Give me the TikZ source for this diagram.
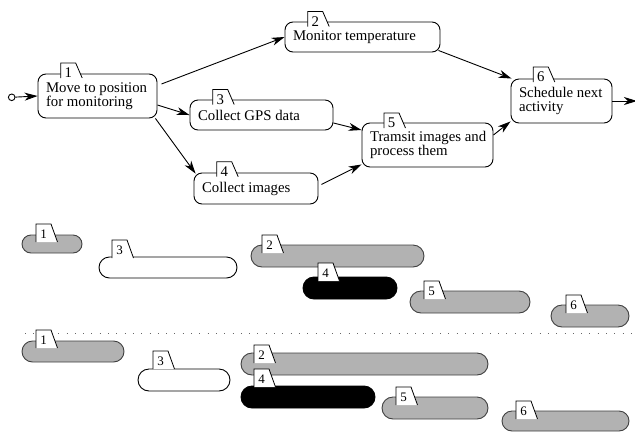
\documentclass[tikz,border=0pt]{standalone}
\usepackage{fontspec}
\setmainfont{Liberation Serif}
\usetikzlibrary{arrows.meta,calc}
\tikzset{
  task/.style={draw=black, line width=0.9pt, rounded corners=8pt, fill=white,
    inner xsep=8pt, inner ysep=0pt, align=flush left, anchor=center,
    font=\fontsize{14.8}{14.5}\selectfont},
  arr/.style={-{Stealth[length=13pt,width=8pt,inset=4pt]}, line width=0.9pt},
  tabline/.style={draw=black, line width=0.8pt, fill=white},
  tabnum/.style={inner sep=0pt, anchor=center, font=\fontsize{14.8}{15}\selectfont},
  gtabnum/.style={inner sep=0pt, anchor=center, font=\fontsize{13}{13}\selectfont},
  graybar/.style={fill=black!30, draw=black!75, line width=0.9pt},
  whitebar/.style={fill=white, draw=black, line width=0.9pt},
  blackbar/.style={fill=black, draw=black, line width=0.9pt},
}
% graph tab: left x, top y, label, name
\newcommand\gtab[4]{%
  \filldraw[tabline] (#1,#2+15) -- (#1,#2) -- (#1+15,#2) -- (#1+21.5,#2+15);
  \node[tabnum] (#4) at (#1+7.5,#2+10) {#3};}
% gantt bar: style, x1, x2, ytop, h, tab left, tab top, label, name
\newcommand\gbar[9]{%
  \draw[#1, rounded corners=#5*0.5pt] (#2,#4) rectangle (#3,#4+#5);
  \filldraw[tabline] (#6,#7+18) -- (#6,#7) -- (#6+15,#7) -- (#6+21.5,#7+18);
  \node[gtabnum] (#9) at (#6+7.5,#7+10) {#8};}
\begin{document}
\begin{tikzpicture}[x=1pt,y=-1pt]
\useasboundingbox (0,0) rectangle (635,432);

% ---- activity graph ----
\node[task, minimum width=119pt, minimum height=44pt, text width=103pt] (n1) at (97.5,96) {\mbox{Move to position}\\\mbox{for monitoring}};
\node[task, minimum width=155pt, minimum height=30pt, text width=139pt] (n2) at (362.5,37) {\mbox{Monitor temperature}};
\node[task, minimum width=143pt, minimum height=30pt, text width=127pt] (n3) at (261.5,115) {\mbox{Collect GPS data}};
\node[task, minimum width=124pt, minimum height=31pt, text width=108pt] (n4) at (256,188.5) {\mbox{Collect images}};
\node[task, minimum width=131pt, minimum height=44pt, text width=115pt] (n5) at (427.5,145) {\mbox{Tramsit images and}\\\mbox{process them}};
\node[task, minimum width=101pt, minimum height=44pt, text width=85pt] (n6) at (561.5,101) {\mbox{Schedule next}\\\mbox{activity}};

\gtab{60.7}{63}{1}{t1}
\gtab{307.7}{11.5}{2}{t2}
\gtab{212.7}{89.5}{3}{t3}
\gtab{216.7}{161.7}{4}{t4}
\gtab{384}{113}{5}{t5}
\gtab{533.3}{67}{6}{t6}

\node[circle, draw, line width=0.9pt, minimum size=6.6pt, inner sep=0pt] (start) at (11.7,97.3) {};
\coordinate (outend) at (637,101);

\draw[arr] (start) -- (n1.west);
\draw[arr] ([xshift=4pt,yshift=12pt]n1.east) -- (n2.west);
\draw[arr] ([yshift=-9pt]n1.east) -- (n3.west);
\draw[arr] ([xshift=-2pt]n1.south east) -- ([xshift=2pt,yshift=-1pt]n4.north west);
\draw[arr] ([xshift=-2pt,yshift=2pt]n2.south east) -- ([xshift=1pt]n6.north west);
\draw[arr] ([yshift=-8pt]n3.east) -- ([yshift=15pt]n5.west);
\draw[arr] ([xshift=3pt,yshift=4pt]n4.east) -- ([yshift=3pt]n5.south west);
\draw[arr] ([yshift=10pt]n5.east) -- ([yshift=2pt]n6.south west);
\draw[arr] (n6.east) -- (outend);

% ---- upper schedule ----
\gbar{graybar}{22}{82}{235}{18}{36}{224}{1}{ua1}
\gbar{graybar}{251}{424}{245}{22}{262}{235}{2}{ua2}
\gbar{whitebar}{99}{237}{257}{21}{112}{240}{3}{ua3}
\gbar{blackbar}{303}{397}{277}{22}{318}{263}{4}{ua4}
\gbar{graybar}{410}{530}{291}{22}{424}{281}{5}{ua5}
\gbar{graybar}{551}{629}{305}{22}{566}{295}{6}{ua6}

% separator
\draw[black!60, line width=1pt, dash pattern=on 0.9pt off 7.4pt] (25,333.5) -- (635,333.5);

% ---- lower schedule ----
\gbar{graybar}{22}{124}{341}{21}{36}{330}{1}{la1}
\gbar{graybar}{241}{488}{353}{22}{254}{345}{2}{la2}
\gbar{whitebar}{138}{230}{369}{22}{153}{351}{3}{la3}
\gbar{blackbar}{241}{375}{386}{22}{254}{369}{4}{la4}
\gbar{graybar}{382}{488}{397}{22}{396}{387}{5}{la5}
\gbar{graybar}{502}{629}{411}{20}{516}{401}{6}{la6}
\end{tikzpicture}
\end{document}
